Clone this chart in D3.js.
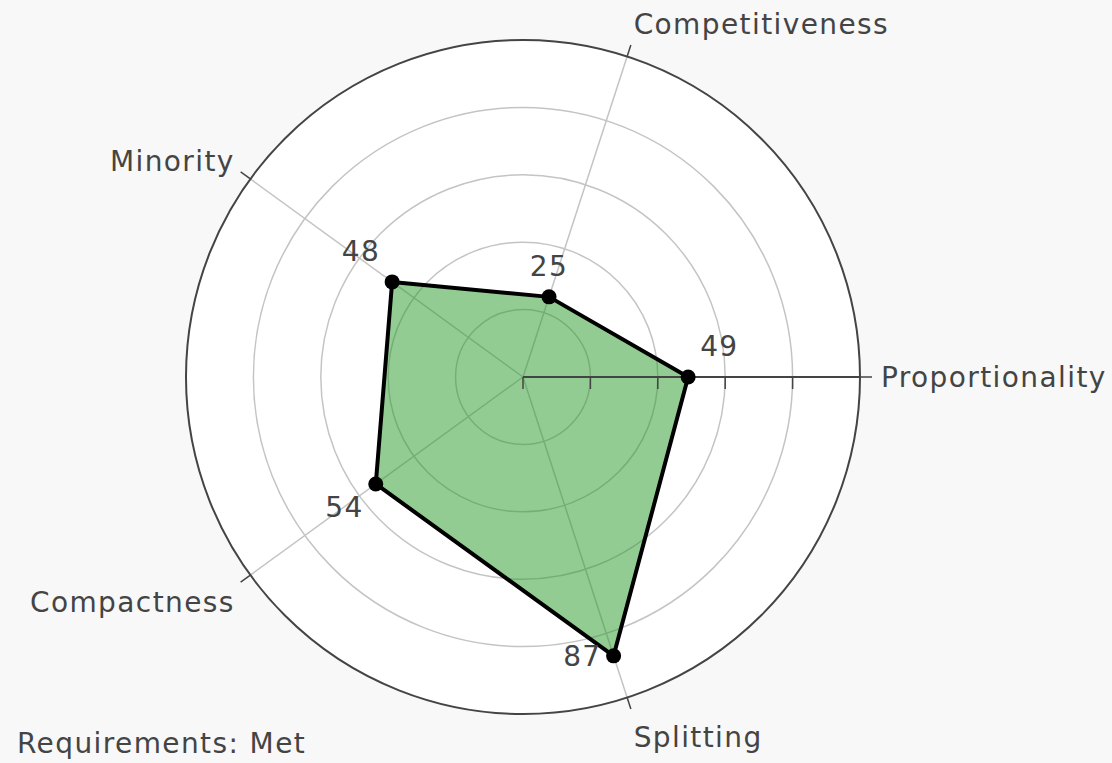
<!DOCTYPE html>
<html>
<head>
<meta charset="utf-8">
<script src="https://cdn.jsdelivr.net/npm/d3@7"></script>
<style>
  html, body { margin: 0; padding: 0; background: #f8f8f8; }
  svg { display: block; }
  text { font-family: "DejaVu Sans", Verdana, sans-serif; fill: #444; letter-spacing: 1.4px; }
</style>
</head>
<body>
<svg id="chart" width="1112" height="763"></svg>
<script>
// ---- data ----
const categories = ["Proportionality", "Competitiveness", "Minority", "Compactness", "Splitting"];
const values = [49, 25, 48, 54, 87];
const textPositions = ["top right", "top center", "top left", "bottom left", "middle left"];
const radialTicks = [0, 20, 40, 60, 80, 100];
const radialRange = [0, 100];
const footnote = "Requirements: Met";

// ---- layout ----
const W = 1112, H = 763;
const cx = 523, cy = 377, R = 337;
const fontSize = 28;
const tickLen = 12;

const svg = d3.select("#chart");
svg.append("rect").attr("width", W).attr("height", H).attr("fill", "#f8f8f8");

const r = d3.scaleLinear().domain(radialRange).range([0, R]);
// angles in degrees, counter-clockwise starting at 0 (east)
const angle = d3.scalePoint().domain(categories).range([0, 360 * (categories.length - 1) / categories.length]);
const rad = c => angle(c) * Math.PI / 180;
const px = (c, v) => cx + r(v) * Math.cos(rad(c));
const py = (c, v) => cy - r(v) * Math.sin(rad(c));

const g = svg.append("g");

// polar background
g.append("circle").attr("cx", cx).attr("cy", cy).attr("r", R).attr("fill", "#fff");

// radial grid circles
g.selectAll("circle.grid").data(radialTicks.filter(t => t > radialRange[0] && t < radialRange[1]))
  .join("circle").attr("class", "grid")
  .attr("cx", cx).attr("cy", cy).attr("r", d => r(d))
  .attr("fill", "none").attr("stroke", "#c4c4c4").attr("stroke-width", 1.5);

// angular grid lines
g.selectAll("line.agrid").data(categories).join("line").attr("class", "agrid")
  .attr("x1", cx).attr("y1", cy)
  .attr("x2", d => px(d, radialRange[1])).attr("y2", d => py(d, radialRange[1]))
  .attr("stroke", "#c4c4c4").attr("stroke-width", 1.5);

// data polygon
const pts = categories.map((c, i) => [px(c, values[i]), py(c, values[i])]);
g.append("path")
  .attr("d", d3.line()(pts) + "Z")
  .attr("fill", "rgba(38,153,38,0.5)")
  .attr("stroke", "#000").attr("stroke-width", 4).attr("stroke-linejoin", "round");

// outer circle
g.append("circle").attr("cx", cx).attr("cy", cy).attr("r", R)
  .attr("fill", "none").attr("stroke", "#444").attr("stroke-width", 2);

// angular ticks (outside)
g.selectAll("line.atick").data(categories).join("line").attr("class", "atick")
  .attr("x1", d => px(d, radialRange[1])).attr("y1", d => py(d, radialRange[1]))
  .attr("x2", d => cx + (R + tickLen) * Math.cos(rad(d)))
  .attr("y2", d => cy - (R + tickLen) * Math.sin(rad(d)))
  .attr("stroke", "#444").attr("stroke-width", 1.5);

// radial axis line along first category
g.append("line")
  .attr("x1", cx).attr("y1", cy).attr("x2", cx + R).attr("y2", cy)
  .attr("stroke", "#444").attr("stroke-width", 2);
g.selectAll("line.rtick").data(radialTicks.filter(t => t < radialRange[1])).join("line").attr("class", "rtick")
  .attr("x1", d => cx + r(d)).attr("x2", d => cx + r(d))
  .attr("y1", cy).attr("y2", cy + tickLen)
  .attr("stroke", "#444").attr("stroke-width", 1.5);

// angular labels
const pad = tickLen + 9;
g.selectAll("text.alabel").data(categories).join("text").attr("class", "alabel")
  .attr("font-size", fontSize)
  .attr("x", d => {
    const co = Math.cos(rad(d));
    const shift = co < -0.1 ? 1.4 : 0; // compensate trailing letter-spacing
    return cx + R * co + co * pad + shift;
  })
  .attr("y", d => {
    const s = Math.sin(rad(d)), co = Math.cos(rad(d));
    const ff = s > 0 ? 0.2 : 1;
    return cy - R * s - s * (pad + fontSize * ff) + Math.abs(co) * fontSize * 0.35;
  })
  .attr("text-anchor", d => {
    const co = Math.cos(rad(d));
    return Math.abs(co) < 0.1 ? "middle" : (co > 0 ? "start" : "end");
  })
  .text(d => d);

// markers
g.selectAll("circle.marker").data(pts).join("circle").attr("class", "marker")
  .attr("cx", d => d[0]).attr("cy", d => d[1]).attr("r", 7.5).attr("fill", "#000");

// value labels
const off = 12;
g.selectAll("text.vlabel").data(values).join("text").attr("class", "vlabel")
  .attr("font-size", fontSize)
  .attr("x", (v, i) => {
    const p = textPositions[i];
    return pts[i][0] + (p.includes("right") ? off : p.includes("left") ? -off : 0);
  })
  .attr("y", (v, i) => {
    const p = textPositions[i];
    return pts[i][1] + (p.startsWith("top") ? -off - 9 : p.startsWith("bottom") ? off + fontSize * 0.75 : fontSize * 0.36);
  })
  .attr("text-anchor", (v, i) => {
    const p = textPositions[i];
    return p.includes("right") ? "start" : p.includes("left") ? "end" : "middle";
  })
  .text(v => v);

// footnote
svg.append("text").attr("x", 17).attr("y", 753).attr("font-size", fontSize).text(footnote);
</script>
</body>
</html>
